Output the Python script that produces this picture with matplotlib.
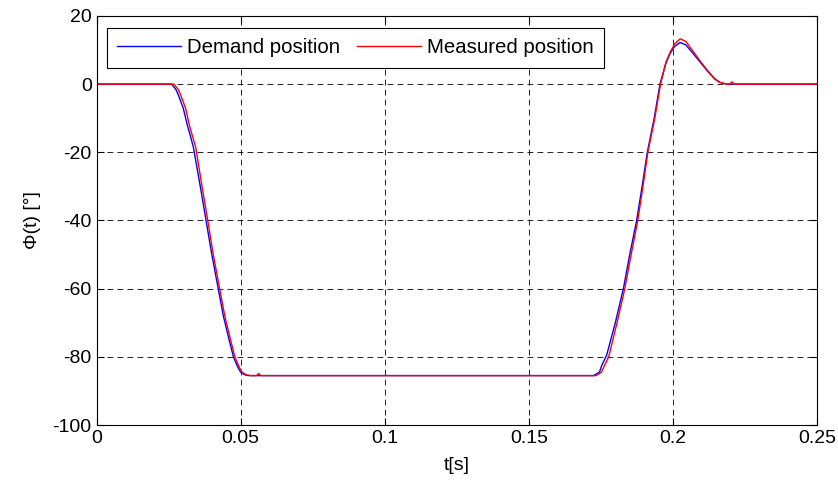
import matplotlib.pyplot as plt

plt.rcParams['font.family'] = ['Liberation Sans', 'DejaVu Sans']
plt.rcParams['axes.unicode_minus'] = False

# Demand position (blue)
t_dem = [0, 0.026, 0.0275, 0.0284, 0.0301, 0.0315, 0.0325, 0.0336, 0.036, 0.038,
         0.040, 0.042, 0.044, 0.046, 0.0475, 0.049, 0.050, 0.0515, 0.053,
         0.1724, 0.1745, 0.1753, 0.1770, 0.180, 0.1828, 0.185, 0.1874, 0.1893,
         0.1911, 0.1935, 0.1955, 0.1975, 0.199, 0.2005, 0.2025, 0.2045, 0.207,
         0.2094, 0.212, 0.2145, 0.2163, 0.2187, 0.25]
phi_dem = [0, 0, -1.5, -3.2, -7.1, -12, -15, -18.5, -30, -40,
           -50, -59, -68, -75, -80, -83, -84.5, -85.3, -85.5,
           -85.5, -84.5, -82.5, -79.5, -70, -60, -50, -40, -30,
           -20, -10, 0, 6, 9, 11, 12.2, 11.5, 9,
           6.5, 3.8, 1.5, 0.5, 0, 0]

# Measured position (red)
t_mea = [0, 0.0268, 0.0283, 0.0292, 0.0309, 0.0322, 0.0332, 0.0344, 0.0366, 0.0386,
         0.0405, 0.0425, 0.0445, 0.0465, 0.048, 0.0495, 0.0505, 0.052, 0.0535,
         0.0555, 0.0562, 0.057,
         0.1733, 0.1752, 0.1760, 0.1777, 0.1806, 0.1833, 0.1855, 0.1878, 0.1896,
         0.1913, 0.1937, 0.1957, 0.1976, 0.1991, 0.2006, 0.2025, 0.2045, 0.207,
         0.2094, 0.212, 0.2145, 0.2163, 0.2185, 0.2198, 0.2205, 0.2212, 0.25]
phi_mea = [0, 0, -1.5, -3.2, -7.1, -12, -15, -18.5, -30, -40,
           -50, -59, -68, -75, -80, -83, -84.5, -85.3, -85.5,
           -85.5, -84.9, -85.5,
           -85.5, -84.5, -83, -80, -70, -60, -50, -40, -30,
           -20, -10, 0, 6.5, 9.5, 11.8, 13.3, 12.5, 9.6,
           6.8, 4.0, 1.6, 0.5, 0, 0, 0.7, 0, 0]

fig = plt.figure(figsize=(8.38, 4.83), dpi=100)
ax = fig.add_axes([0.1152, 0.120, 0.8598, 0.847])

ax.plot(t_dem, phi_dem, color='#0000ff', lw=1.0, label='Demand position')
ax.plot(t_mea, phi_mea, color='#ff0000', lw=1.0, label='Measured position')

ax.set_xlim(0, 0.25)
ax.set_ylim(-100, 20)
ax.set_xticks([0, 0.05, 0.1, 0.15, 0.2, 0.25])
ax.set_xticklabels(['0', '0.05', '0.1', '0.15', '0.2', '0.25'])
ax.set_yticks([-100, -80, -60, -40, -20, 0, 20])
ax.grid(True, color='black', linestyle=(0, (7, 5)), linewidth=0.6)
ax.tick_params(direction='in', top=True, right=True, length=5, labelsize=14)
for s in ax.spines.values():
    s.set_linewidth(0.8)

ax.set_xlabel('t[s]', fontsize=14, labelpad=7)
ax.set_ylabel('Φ(t) [°]', fontsize=14, labelpad=8)

leg = ax.legend(loc='upper left', bbox_to_anchor=(0.0142, 0.970), ncol=2,
                fontsize=14.7, fancybox=False, framealpha=1, edgecolor='black',
                borderaxespad=0, handlelength=3.15, columnspacing=0.8,
                handletextpad=0.3, borderpad=0.5)
leg.get_frame().set_linewidth(0.8)

fig.savefig('out.png', dpi=100)
